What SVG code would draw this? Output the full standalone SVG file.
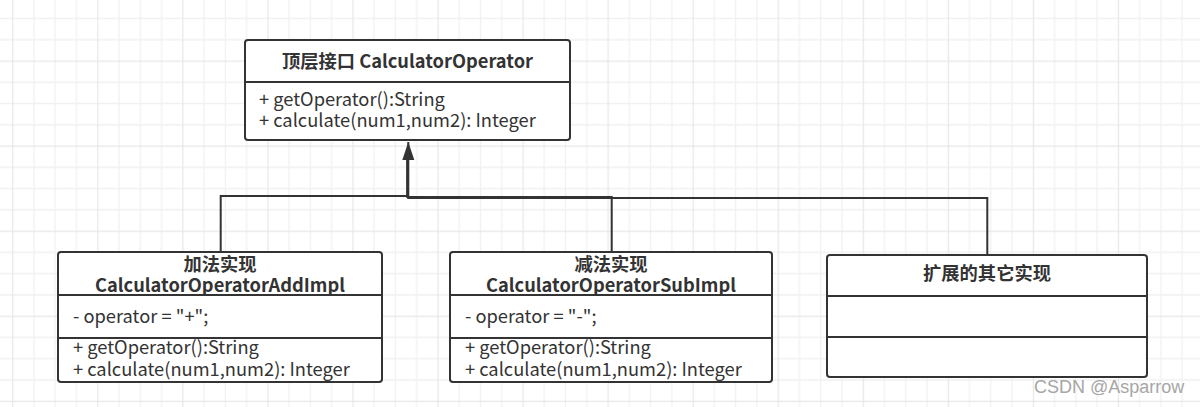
<svg xmlns="http://www.w3.org/2000/svg" width="1200" height="407" viewBox="0 0 1200 407">
<defs>
<pattern id="grid" x="12.2" y="60.5" width="85.05" height="85.05" patternUnits="userSpaceOnUse">
<path d="M21.76 0V85.05M43.02 0V85.05M64.29 0V85.05M0 21.76H85.05M0 43.02H85.05M0 64.29H85.05" stroke="#f1f1f1" stroke-width="1.3" fill="none"/>
<path d="M0.5 0V85.05M0 0.5H85.05" stroke="#e6e6e6" stroke-width="1.3" fill="none"/>
</pattern>
<marker id="arrow" markerUnits="userSpaceOnUse" markerWidth="20" markerHeight="14" viewBox="0 0 20 14" refX="19" refY="7" orient="auto">
<path d="M19 7L1 1V13Z" fill="#333"/>
</marker>
</defs>
<style>
.box{fill:#fff;stroke:#333;stroke-width:2}
.div{stroke:#333;stroke-width:2}
.con{fill:none;stroke:#333;stroke-width:2}
text{font-family:"Noto Sans CJK SC","Noto Sans",sans-serif;fill:#333;font-size:18.3px}
.t{font-weight:bold;text-anchor:middle}
.wm{font-family:"Liberation Sans",Arial,sans-serif;fill:#a6a6a6;font-size:18px}
</style>
<rect width="1200" height="407" fill="#fff"/>
<rect width="1200" height="407" fill="url(#grid)"/>
<g id="connectors">
<path class="con" d="M220.7 252V196H407.3V160"/>
<path class="con" d="M611.7 252V197H407.3V160"/>
<path class="con" d="M987.3 255V198H408.3V142" marker-end="url(#arrow)"/>
</g>
<g id="calculator-operator">
<rect class="box" x="245" y="40" width="325" height="100" rx="3"/>
<line class="div" x1="245" y1="82" x2="570" y2="82"/>
<text class="t" x="407.5" y="68">顶层接口 CalculatorOperator</text>
<text x="259" y="106">+ getOperator():String</text>
<text x="259" y="127">+ calculate(num1,num2): Integer</text>
</g>
<g id="add-impl">
<rect class="box" x="58" y="252" width="324" height="130" rx="3"/>
<line class="div" x1="58" y1="295" x2="382" y2="295"/>
<line class="div" x1="58" y1="338" x2="382" y2="338"/>
<text class="t" x="220" y="271">加法实现</text>
<text class="t" x="220" y="292">CalculatorOperatorAddImpl</text>
<text x="73" y="323">- operator = "+";</text>
<text x="73" y="354">+ getOperator():String</text>
<text x="73" y="376">+ calculate(num1,num2): Integer</text>
</g>
<g id="sub-impl">
<rect class="box" x="450" y="252" width="322" height="130" rx="3"/>
<line class="div" x1="450" y1="295" x2="772" y2="295"/>
<line class="div" x1="450" y1="338" x2="772" y2="338"/>
<text class="t" x="611" y="271">减法实现</text>
<text class="t" x="611" y="292">CalculatorOperatorSubImpl</text>
<text x="465" y="323">- operator = "-";</text>
<text x="465" y="354">+ getOperator():String</text>
<text x="465" y="376">+ calculate(num1,num2): Integer</text>
</g>
<g id="other-impl">
<rect class="box" x="827" y="255" width="320" height="122" rx="3"/>
<line class="div" x1="827" y1="296" x2="1147" y2="296"/>
<line class="div" x1="827" y1="337" x2="1147" y2="337"/>
<text class="t" x="987" y="280">扩展的其它实现</text>
</g>
<text class="wm" x="1034" y="393">CSDN @Asparrow</text>
</svg>
